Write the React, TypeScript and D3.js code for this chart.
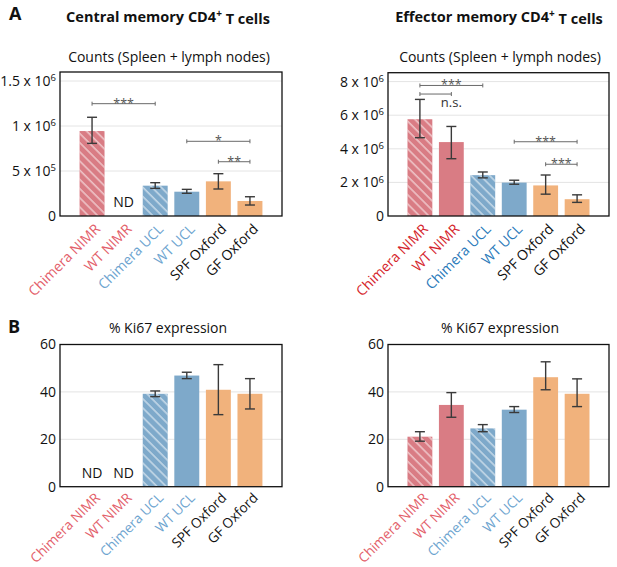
import React from "react";
import * as d3 from "d3";

// ---- data ----
const categories = ["Chimera NIMR", "WT NIMR", "Chimera UCL", "WT UCL", "SPF Oxford", "GF Oxford"];
const groups = ["nimr", "nimr", "ucl", "ucl", "ox", "ox"];
const hatched = [true, false, true, false, false, false];

// Central memory counts
const cmCounts = [944000, null, 337000, 270000, 385000, 167000];
const cmCountsLo = [807000, null, 307000, 252000, 300000, 122000];
const cmCountsHi = [1097000, null, 370000, 296000, 470000, 214000];
const cmCountTicks = [0, 5e5, 1e6, 1.5e6];
const cmCountTickLabels = ["0", "5 x 10^5", "1 x 10^6", "1.5 x 10^6"];

// Effector memory counts
const emCounts = [5.76e6, 4.4e6, 2.43e6, 1.99e6, 1.82e6, 1.0e6];
const emCountsLo = [4.66e6, 3.41e6, 2.27e6, 1.89e6, 1.3e6, 0.81e6];
const emCountsHi = [6.94e6, 5.33e6, 2.62e6, 2.13e6, 2.44e6, 1.26e6];
const emCountTicks = [0, 2e6, 4e6, 6e6, 8e6];
const emCountTickLabels = ["0", "2 x 10^6", "4 x 10^6", "6 x 10^6", "8 x 10^6"];

// Ki67
const cmKi67 = [null, null, 39.2, 46.9, 40.9, 39.2];
const cmKi67Lo = [null, null, 38.0, 45.6, 30.4, 32.8];
const cmKi67Hi = [null, null, 40.4, 48.3, 51.5, 45.6];
const emKi67 = [21.1, 34.5, 24.6, 32.5, 46.2, 39.2];
const emKi67Lo = [19.2, 29.3, 23.2, 31.3, 40.9, 33.8];
const emKi67Hi = [23.2, 39.7, 26.2, 33.8, 52.7, 45.5];
const ki67Ticks = [0, 20, 40, 60];
const ki67TickLabels = ["0", "20", "40", "60"];

// significance brackets
const cmCountBrackets = [
  { from: 0, to: 2, y: 1.248e6, label: "***" },
  { from: 3, to: 5, y: 0.83e6, label: "*" },
  { from: 4, to: 5, y: 0.603e6, label: "**" },
];
const emCountBrackets = [
  { from: 0, to: 2, y: 7.77e6, label: "***" },
  { from: 0, to: 1, y: 7.26e6, label: "n.s.", below: true },
  { from: 3, to: 5, y: 4.42e6, label: "***" },
  { from: 4, to: 5, y: 3.08e6, label: "***" },
];

const fillColors: Record<string, string> = { nimr: "#d97c84", ucl: "#7ea9ca", ox: "#f1b27c" };
const labelLight: Record<string, string> = { nimr: "#e3606a", ucl: "#6da4cf", ox: "#111111" };
const labelBright: Record<string, string> = { nimr: "#d5252c", ucl: "#2a7aba", ox: "#111111" };

const FONT = "'Open Sans', 'Noto Sans', sans-serif";

function TickText({ s, x, y }: { s: string; x: number; y: number }) {
  const parts = s.split("^");
  return (
    <text x={x} y={y} textAnchor="end" fontSize={14} dy="0.35em" fill="#111">
      {parts[0]}
      {parts.length > 1 && (
        <tspan dy="-0.5em" fontSize={9.5}>
          {parts[1]}
        </tspan>
      )}
    </text>
  );
}

type Bracket = { from: number; to: number; y: number; label: string; below?: boolean };

function Panel(props: {
  left: number;
  right: number;
  top: number;
  bottom: number;
  yMax: number;
  ticks: number[];
  tickLabels: string[];
  values: (number | null)[];
  lo: (number | null)[];
  hi: (number | null)[];
  labelColors: Record<string, string>;
  brackets: Bracket[];
  labelDy: number;
  labelSize: number;
  id: string;
}) {
  const { left, right, top, bottom, yMax, ticks, tickLabels, values, lo, hi, labelColors, brackets, labelDy, labelSize, id } = props;
  const x = d3.scaleBand<string>().domain(categories).range([left, right]).paddingInner(0.21).paddingOuter(0.62);
  const y = d3.scaleLinear().domain([0, yMax]).range([bottom, top]);
  const bw = x.bandwidth();
  return (
    <g>
      <defs>
        <pattern id={`hatch-${id}`} patternUnits="userSpaceOnUse" width={6.5} height={6.5} patternTransform="rotate(-45)">
          <line x1={1} y1={0} x2={1} y2={6.5} stroke="#fff" strokeWidth={1} strokeOpacity={0.85} />
        </pattern>
      </defs>
      {ticks.map((t, i) =>
        t > 0 && y(t) > top + 1 ? (
          <line key={"g" + i} x1={left} x2={right} y1={y(t)} y2={y(t)} stroke="#e4e4e4" strokeWidth={1} />
        ) : null
      )}
      {categories.map((c, i) => {
        const v = values[i];
        if (v == null) return null;
        const g = groups[i];
        const bx = x(c)!;
        return (
          <g key={"b" + i}>
            <rect x={bx} y={y(v)} width={bw} height={bottom - y(v)} fill={fillColors[g]} />
            {hatched[i] && <rect x={bx} y={y(v)} width={bw} height={bottom - y(v)} fill={`url(#hatch-${id})`} />}
          </g>
        );
      })}
      {categories.map((c, i) => {
        const l = lo[i];
        const h = hi[i];
        if (l == null || h == null) return null;
        const cx = x(c)! + bw / 2;
        return (
          <g key={"e" + i} stroke="#3a3a3a" strokeWidth={1.4}>
            <line x1={cx} x2={cx} y1={y(l)} y2={y(h)} />
            <line x1={cx - 5} x2={cx + 5} y1={y(l)} y2={y(l)} />
            <line x1={cx - 5} x2={cx + 5} y1={y(h)} y2={y(h)} />
          </g>
        );
      })}
      {categories.map((c, i) =>
        values[i] == null ? (
          <text key={"nd" + i} x={x(c)! + bw / 2} y={bottom - 9} textAnchor="middle" fontSize={14} fill="#111">
            ND
          </text>
        ) : null
      )}
      {brackets.map((b, i) => {
        const x1 = x(categories[b.from])! + bw / 2;
        const x2 = x(categories[b.to])! + bw / 2;
        const by = y(b.y);
        return (
          <g key={"k" + i}>
            <g stroke="#6a6a6a" strokeWidth={1}>
              <line x1={x1} x2={x2} y1={by} y2={by} />
              <line x1={x1} x2={x1} y1={by - 2} y2={by + 2} />
              <line x1={x2} x2={x2} y1={by - 2} y2={by + 2} />
            </g>
            {b.below ? (
              <text x={x2} y={by + 12.5} textAnchor="middle" fontSize={13} fill="#333">
                {b.label}
              </text>
            ) : (
              <text x={(x1 + x2) / 2} y={by + 4} textAnchor="middle" fontSize={12.5} fill="#555">
                {b.label}
              </text>
            )}
          </g>
        );
      })}
      <rect x={left} y={top} width={right - left} height={bottom - top} fill="none" stroke="#111" strokeWidth={1.3} />
      {ticks.map((t, i) => (
        <TickText key={"t" + i} s={tickLabels[i]} x={left - 4} y={y(t)} />
      ))}
      {categories.map((c, i) => {
        const cx = x(c)! + bw / 2 + 9;
        const cy = bottom + labelDy;
        return (
          <text
            key={"l" + i}
            x={cx}
            y={cy}
            transform={`rotate(-45, ${cx}, ${cy})`}
            textAnchor="end"
            fontSize={labelSize}
            fill={labelColors[groups[i]]}
          >
            {c}
          </text>
        );
      })}
    </g>
  );
}

export default function App() {
  return (
    <div style={{ position: "absolute", left: 0, top: 0 }}>
      <svg width={617} height={567} style={{ display: "block", fontFamily: FONT }}>
        <rect width={617} height={567} fill="#fff" />
        <text x={9} y={20} fontSize={18} fontWeight="bold" fill="#111">A</text>
        <text x={8} y={333} fontSize={18} fontWeight="bold" fill="#111">B</text>
        <text x={168} y={21.5} textAnchor="middle" fontSize={14.5} fontWeight="bold" fill="#111">
          Central memory CD4<tspan dy="-0.45em" fontSize={10}>+</tspan><tspan dy="0.45em"> T cells</tspan>
        </text>
        <text x={499} y={21.5} textAnchor="middle" fontSize={14.5} fontWeight="bold" fill="#111">
          Effector memory CD4<tspan dy="-0.45em" fontSize={10}>+</tspan><tspan dy="0.45em"> T cells</tspan>
        </text>
        <text x={169} y={61.5} textAnchor="middle" fontSize={14} fill="#111">Counts (Spleen + lymph nodes)</text>
        <text x={500} y={61.5} textAnchor="middle" fontSize={14} fill="#111">Counts (Spleen + lymph nodes)</text>
        <text x={168} y={332.7} textAnchor="middle" fontSize={14} fill="#111">% Ki67 expression</text>
        <text x={500} y={332.7} textAnchor="middle" fontSize={14} fill="#111">% Ki67 expression</text>
        <Panel id="a1" left={60} right={282} top={72} bottom={216} yMax={1.6e6} ticks={cmCountTicks} tickLabels={cmCountTickLabels}
          values={cmCounts} lo={cmCountsLo} hi={cmCountsHi} labelColors={labelLight} brackets={cmCountBrackets} labelDy={14} labelSize={14} />
        <Panel id="a2" left={388} right={609} top={72.7} bottom={216} yMax={8.53e6} ticks={emCountTicks} tickLabels={emCountTickLabels}
          values={emCounts} lo={emCountsLo} hi={emCountsHi} labelColors={labelBright} brackets={emCountBrackets} labelDy={14} labelSize={14} />
        <Panel id="b1" left={60} right={282} top={344.5} bottom={486.7} yMax={60} ticks={ki67Ticks} tickLabels={ki67TickLabels}
          values={cmKi67} lo={cmKi67Lo} hi={cmKi67Hi} labelColors={labelLight} brackets={[]} labelDy={12} labelSize={13.6} />
        <Panel id="b2" left={388} right={609} top={344.5} bottom={486.7} yMax={60} ticks={ki67Ticks} tickLabels={ki67TickLabels}
          values={emKi67} lo={emKi67Lo} hi={emKi67Hi} labelColors={labelLight} brackets={[]} labelDy={12} labelSize={13.6} />
      </svg>
    </div>
  );
}
